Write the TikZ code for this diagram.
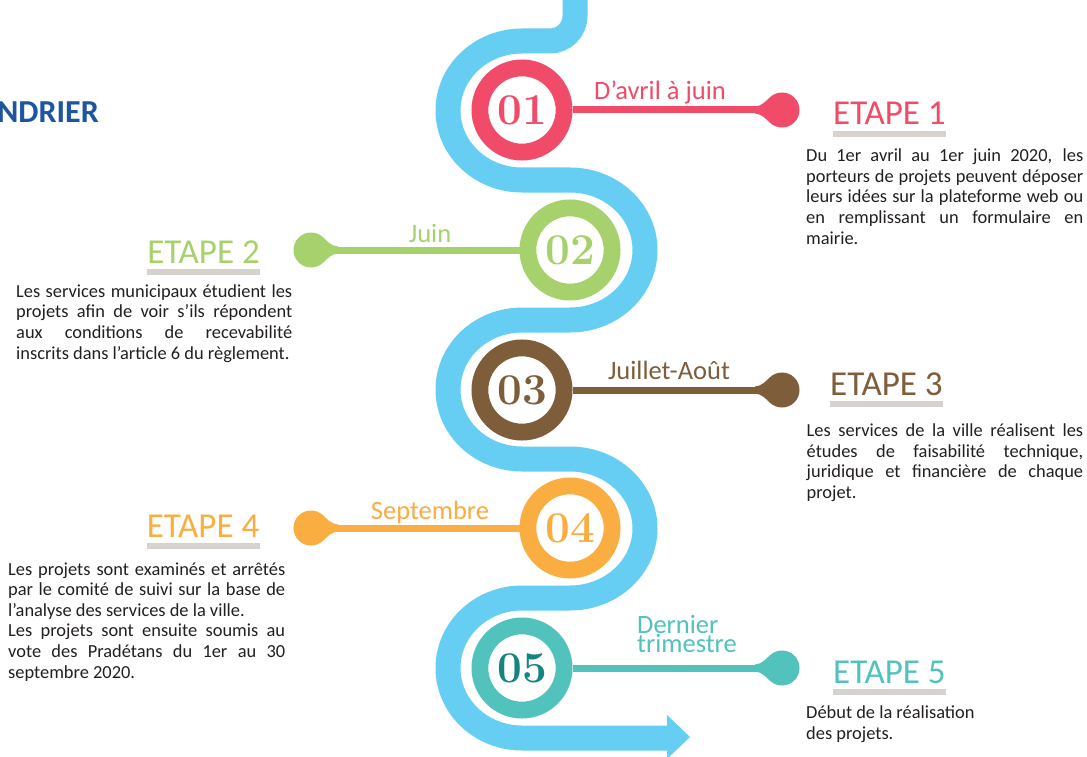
\documentclass[tikz,border=0pt]{standalone}
\usepackage{fontspec}
\setmainfont{Carlito}
\newfontfamily\numfont{Latin Modern Roman}
\usetikzlibrary{calc}
\definecolor{snakeblue}{RGB}{102,206,242}
\definecolor{cA}{RGB}{240,75,104}
\definecolor{cB}{RGB}{167,209,108}
\definecolor{cC}{RGB}{126,93,59}
\definecolor{cD}{RGB}{250,173,64}
\definecolor{cE}{RGB}{82,194,189}
\definecolor{cEdark}{RGB}{23,133,127}
\definecolor{ulgrey}{RGB}{214,211,207}
\definecolor{txt}{RGB}{35,31,32}
\definecolor{titleblue}{RGB}{30,85,160}
\hyphenpenalty=10000
\tolerance=9999
\tikzset{
  ring/.style={circle, draw=#1, line width=16.8pt, minimum size=84.2pt, inner sep=0pt,
    font=\numfont\bfseries\fontsize{44}{44}\selectfont, text=#1},
  dotnode/.style={circle, fill=#1, minimum size=35pt, inner sep=0pt},
  conn/.style={draw=#1, line width=7pt},
  lab/.style={text=#1, font=\fontsize{26.5}{26.5}\selectfont, inner sep=0pt, anchor=base},
  etape/.style={text=#1, font=\fontsize{35}{35}\selectfont, inner sep=0pt},
  body/.style={text=txt, font=\fontsize{18.4}{20.6}\selectfont,
    inner sep=0pt, anchor=base west, align=justify},
  band/.style={draw=snakeblue, line width=25pt},
}
\newcommand\tdrop[3]{%
  \begin{scope}[shift={(#1.center)}, xscale=#3]
    \fill[#2] (-27,-3.5) .. controls (-21,-3.5) and (-15.6,-9.2) .. (-12,-12.7)
      -- (-12,12.7) .. controls (-15.6,9.2) and (-21,3.5) .. (-27,3.5) -- cycle;
  \end{scope}}
\newcommand\uline[1]{%
  \fill[ulgrey] ($(#1.base west)+(0,6)$) rectangle ($(#1.base east)+(0,12)$);}
\begin{document}
\hyphenpenalty=10000
\tolerance=9999
\begin{tikzpicture}[x=1pt,y=-1pt]
\useasboundingbox (0,0) rectangle (1087,757);
\clip (0,0) rectangle (1087,757);
\fill[white] (0,0) rectangle (1087,757);

% snake
\draw[band] (575,-10) -- (575,16) arc[start angle=0, end angle=90, radius=25]
  -- (522,41) arc[start angle=270, end angle=90, x radius=74, y radius=69.5]
  -- (570,180) arc[start angle=-90, end angle=90, x radius=75, y radius=70]
  -- (522,320) arc[start angle=270, end angle=90, x radius=74, y radius=69.5]
  -- (570,459) arc[start angle=-90, end angle=90, x radius=75, y radius=69.5]
  -- (522,598) arc[start angle=270, end angle=90, x radius=74, y radius=70]
  -- (668,738);
\fill[snakeblue] (667,715) -- (690,737) -- (667,759) -- cycle;

% title
\node[text=titleblue, font=\bfseries\fontsize{32}{32}\selectfont, inner sep=0pt, anchor=base east] (title) at (99,123) {NDRIER};

% rings
\node[ring=cA] (n1) at (522,110) {01};
\node[ring=cB] (n2) at (570,250) {02};
\node[ring=cC] (n3) at (522,390) {03};
\node[ring=cD] (n4) at (570,528) {04};
\node[ring=cE, text=cEdark] (n5) at (522,668) {05};

% dots
\node[dotnode=cA] (d1) at (782,110) {};
\node[dotnode=cB] (d2) at (311,250) {};
\node[dotnode=cC] (d3) at (782,390) {};
\node[dotnode=cD] (d4) at (311,528) {};
\node[dotnode=cE] (d5) at (782,668) {};

% connectors
\draw[conn=cA] (n1) -- (d1);
\draw[conn=cB] (n2) -- (d2);
\draw[conn=cC] (n3) -- (d3);
\draw[conn=cD] (n4) -- (d4);
\draw[conn=cE] (n5) -- (d5);
\tdrop{d1}{cA}{1}
\tdrop{d2}{cB}{-1}
\tdrop{d3}{cC}{1}
\tdrop{d4}{cD}{-1}
\tdrop{d5}{cE}{1}

% labels
\node[lab=cA] (l1) at (660,100) {D’avril à juin};
\node[lab=cB] (l2) at (430,242) {Juin};
\node[lab=cC] (l3) at (669,379) {Juillet-Août};
\node[lab=cD] (l4) at (430,519) {Septembre};
\node[text=cE, font=\fontsize{26.5}{19}\selectfont, inner sep=0pt, anchor=south west, align=left] (l5) at (637,653) {Dernier\\trimestre};

% headings
\node[etape=cA, anchor=base west] (h1) at (833,125) {ETAPE 1};
\node[etape=cB, anchor=base east] (h2) at (260,263) {ETAPE 2};
\node[etape=cC, anchor=base west] (h3) at (830,395) {ETAPE 3};
\node[etape=cD, anchor=base east] (h4) at (259.5,537) {ETAPE 4};
\node[etape=cE, anchor=base west] (h5) at (833,683) {ETAPE 5};
\uline{h1}\uline{h2}\uline{h3}\uline{h4}\uline{h5}

% bodies
\node[body, text width=277pt] (t1) at (806,161.7) {Du 1er avril au 1er juin 2020, les\linebreak porteurs de projets peuvent déposer\linebreak leurs idées sur la plateforme web ou\linebreak en remplissant un formulaire en\linebreak mairie.};
\node[body, text width=276pt] (t2) at (16,297.3) {\parfillskip=0pt Les services municipaux étudient les\linebreak projets afin de voir s’ils répondent\linebreak aux conditions de recevabilité\linebreak inscrits dans l’article 6 du règlement.};
\node[body, text width=276.5pt] (t3) at (806.5,436.5) {Les services de la ville réalisent les\linebreak études de faisabilité technique,\linebreak juridique et financière de chaque\linebreak projet.};
\node[body, text width=277pt] (t4) at (8,575) {Les projets sont examinés et arrêtés\linebreak par le comité de suivi sur la base de\linebreak l’analyse des services de la ville.\hfill\break Les projets sont ensuite soumis au\linebreak vote des Pradétans du 1er au 30\linebreak septembre 2020.};
\node[text=txt, font=\fontsize{18.4}{20.6}\selectfont, inner sep=0pt, anchor=north west, align=left] (t5) at (806,706) {Début de la réalisation\\des projets.};
\end{tikzpicture}
\end{document}
